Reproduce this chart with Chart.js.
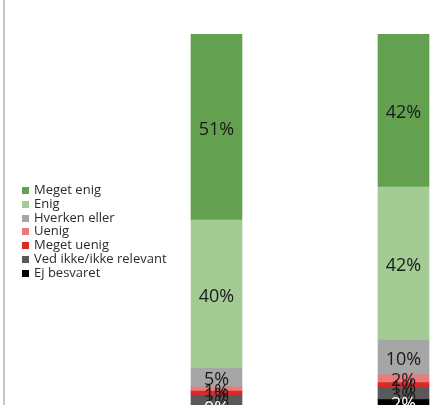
<!DOCTYPE html>
<html>
<head>
<meta charset="utf-8">
<script src="https://cdn.jsdelivr.net/npm/chart.js@4"></script>
<style>
  html, body { margin: 0; padding: 0; background: #fff; overflow: hidden; width: 435px; height: 405px; }
  #frame { position: absolute; left: 3px; top: 0; width: 2px; height: 405px; background: #c6c6c6; }
  #chart { position: absolute; left: 0; top: 0; }
  #legend { position: absolute; left: 22px; top: 183px; font: 13px "Open Sans", sans-serif; color: #2b2b2b; }
  #legend div { height: 13.8px; line-height: 13.8px; white-space: nowrap; }
  #legend span { display: inline-block; width: 7px; height: 7px; margin-right: 5px; vertical-align: 0px; }
</style>
</head>
<body>
<div id="frame"></div>
<canvas id="chart" width="500" height="410"></canvas>
<div id="legend"></div>
<script>
// data (percent)
const categories = ['1', '2'];
const seriesNames = ['Meget enig', 'Enig', 'Hverken eller', 'Uenig', 'Meget uenig', 'Ved ikke/ikke relevant', 'Ej besvaret'];
const megetEnig = [50.6, 41.6];
const enig = [40.4, 41.7];
const hverken = [5.1, 9.5];
const uenig = [1.1, 2.1];
const megetUenig = [1.2, 1.4];
const vedIkke = [3.0, 3.2];
const ejBesvaret = [0, 1.6];

const colors = ['#63a150', '#a2cc93', '#a6a6a6', '#eb7b7b', '#d92a2a', '#595959', '#000000'];
const labelColors = ['#1a1a1a', '#1a1a1a', '#1a1a1a', '#1a1a1a', '#1a1a1a', '#1a1a1a', '#fff'];
const values = [megetEnig, enig, hverken, uenig, megetUenig, vedIkke, ejBesvaret];

// draws the percentage in the middle of every segment
const barLabels = {
    id: 'barLabels',
    afterDatasetsDraw(chart) {
        const ctx = chart.ctx;
        ctx.save();
        ctx.font = '18px "Open Sans", sans-serif';
        ctx.textAlign = 'center';
        ctx.textBaseline = 'middle';
        chart.data.datasets.forEach(function(ds, i) {
            chart.getDatasetMeta(i).data.forEach(function(bar, j) {
                const p = bar.getCenterPoint();
                ctx.fillStyle = labelColors[i];
                ctx.fillText(Math.round(ds.data[j]) + '%', p.x, p.y + 3);
            });
        });
        ctx.restore();
    }
};

const chart = new Chart(document.getElementById('chart').getContext('2d'), {
    type: 'bar',
    data: {
        labels: categories,
        datasets: seriesNames.map(function(name, i) {
            return {
                label: name,
                data: values[i],
                backgroundColor: colors[i],
                borderWidth: 0,
                barThickness: 51
            };
        })
    },
    options: {
        responsive: false,
        animation: false,
        layout: { padding: { left: 123, right: 3, top: 34, bottom: 2 } },
        scales: {
            x: { stacked: true, display: false },
            // reversed so the first series sits on top, like the original
            y: { stacked: true, display: false, min: 0, max: 102, reverse: true }
        },
        plugins: {
            legend: { display: false },
            tooltip: { enabled: false }
        }
    },
    plugins: [barLabels]
});

// legend as html, built from the chart's datasets
const legend = document.getElementById('legend');
chart.data.datasets.forEach(function(ds) {
    const row = document.createElement('div');
    const box = document.createElement('span');
    box.style.background = ds.backgroundColor;
    row.appendChild(box);
    row.appendChild(document.createTextNode(ds.label));
    legend.appendChild(row);
});
</script>
</body>
</html>
